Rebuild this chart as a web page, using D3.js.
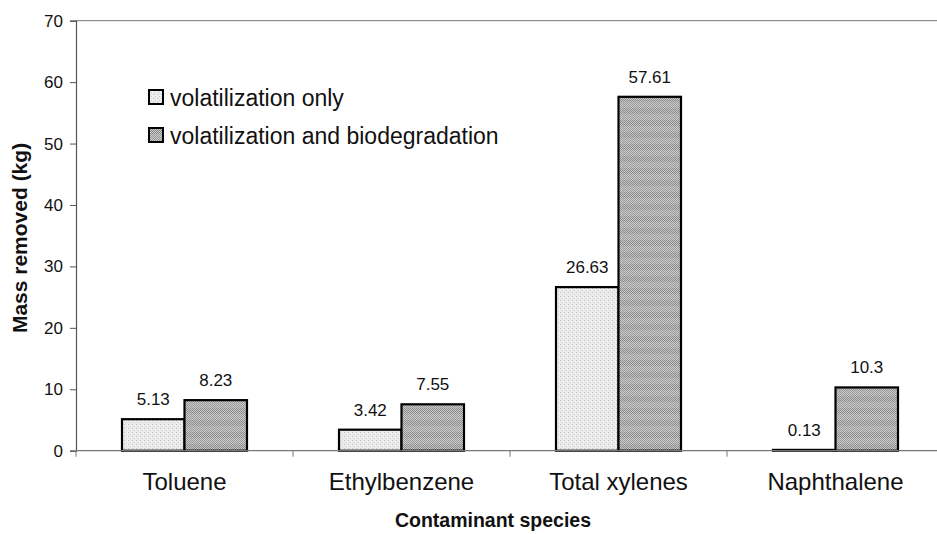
<!DOCTYPE html>
<html>
<head>
<meta charset="utf-8">
<script src="https://cdn.jsdelivr.net/npm/d3@7"></script>
<style>
  body { margin: 0; background: #fff; }
  svg { display: block; font-family: "Liberation Sans", Arial, sans-serif; }
</style>
</head>
<body>
<svg width="937" height="534"></svg>
<script>
// mass removed per contaminant, two model runs
var categories = ["Toluene", "Ethylbenzene", "Total xylenes", "Naphthalene"];
var seriesNames = ["volatilization only", "volatilization and biodegradation"];
var volOnly = [5.13, 3.42, 26.63, 0.13];
var volBio = [8.23, 7.55, 57.61, 10.3];
var valueLabels = [["5.13", "3.42", "26.63", "0.13"], ["8.23", "7.55", "57.61", "10.3"]];
var yTicks = [0, 10, 20, 30, 40, 50, 60, 70];

// plot box (right edge runs past the window, as in the original)
var plotLeft = 76, plotRight = 944, plotTop = 20.7, plotBottom = 450.7;

var svg = d3.select("svg");

// dithered fills, like the scanned print
var defs = svg.append("defs");
var light = defs.append("pattern").attr("id", "light")
  .attr("width", 4).attr("height", 4).attr("patternUnits", "userSpaceOnUse");
light.append("rect").attr("width", 4).attr("height", 4).attr("fill", "#ebebeb");
light.append("rect").attr("x", 0).attr("y", 0).attr("width", 1).attr("height", 1).attr("fill", "#c4c4c4");
light.append("rect").attr("x", 2).attr("y", 2).attr("width", 1).attr("height", 1).attr("fill", "#d0d0d0");
light.append("rect").attr("x", 3).attr("y", 1).attr("width", 1).attr("height", 1).attr("fill", "#fafafa");

var dark = defs.append("pattern").attr("id", "dark")
  .attr("width", 12).attr("height", 12).attr("patternUnits", "userSpaceOnUse");
dark.append("rect").attr("width", 12).attr("height", 12).attr("fill", "#c8c8c8");
for (var i = 0; i < 12; i++) {
  for (var j = 0; j < 12; j++) {
    if ((i + j) % 2 == 0) {
      dark.append("rect").attr("x", i).attr("y", j).attr("width", 1).attr("height", 1)
        .attr("fill", j < 6 ? "#8a8a8a" : "#9c9c9c");
    }
  }
}
var fills = ["url(#light)", "url(#dark)"];

var x0 = d3.scaleBand().domain(categories).range([plotLeft, plotRight]).padding(0);
var x1 = d3.scaleBand().domain([0, 1]).range([0, x0.bandwidth()]).paddingInner(0).paddingOuter(0.736);
var y = d3.scaleLinear().domain([0, 70]).range([plotBottom, plotTop]);

// plot frame top line
svg.append("line").attr("x1", plotLeft).attr("x2", plotRight).attr("y1", y(70)).attr("y2", y(70))
  .attr("stroke", "#777").attr("stroke-width", 1);

// y axis
var yAxis = svg.append("g").attr("transform", "translate(" + plotLeft + ",0)")
  .call(d3.axisLeft(y).tickValues(yTicks).tickSize(6).tickPadding(7));
yAxis.select(".domain").attr("stroke", "#555").attr("stroke-width", 1.2);
yAxis.selectAll(".tick line").attr("stroke", "#555");
yAxis.selectAll("text").attr("font-size", 17).attr("fill", "#111")
  .attr("font-family", "Liberation Sans, Arial, sans-serif");

// bars
var data = [volOnly, volBio];
data.forEach(function(vals, s) {
  svg.append("g").selectAll("rect").data(vals).enter().append("rect")
    .attr("x", function(d, k) { return x0(categories[k]) + x1(s); })
    .attr("y", function(d) { return y(d); })
    .attr("width", x1.bandwidth())
    .attr("height", function(d) { return y(0) - y(d); })
    .attr("fill", fills[s])
    .attr("stroke", "#000").attr("stroke-width", 2.2);
  svg.append("g").selectAll("text").data(vals).enter().append("text")
    .attr("x", function(d, k) { return x0(categories[k]) + x1(s) + x1.bandwidth() / 2; })
    .attr("y", function(d) { return y(d) - 14; })
    .attr("text-anchor", "middle").attr("font-size", 17).attr("fill", "#111")
    .text(function(d, k) { return valueLabels[s][k]; });
});

// x axis with ticks on the category boundaries
var xAxis = svg.append("g").attr("transform", "translate(0," + plotBottom + ")");
xAxis.append("line").attr("x1", plotLeft).attr("x2", plotRight).attr("stroke", "#777").attr("stroke-width", 1.2);
xAxis.selectAll("line.tk").data(categories.concat([null])).enter().append("line").attr("class", "tk")
  .attr("x1", function(d, k) { return plotLeft + k * x0.step(); })
  .attr("x2", function(d, k) { return plotLeft + k * x0.step(); })
  .attr("y1", 0).attr("y2", 6).attr("stroke", "#777");
xAxis.selectAll("text").data(categories).enter().append("text")
  .attr("x", function(d) { return x0(d) + x0.bandwidth() / 2; })
  .attr("y", 39.5).attr("text-anchor", "middle").attr("font-size", 24).attr("fill", "#111")
  .text(function(d) { return d; });

// axis titles
svg.append("text").attr("transform", "translate(27,238) rotate(-90)")
  .attr("text-anchor", "middle").attr("font-size", 21).attr("font-weight", "bold").attr("fill", "#111")
  .text("Mass removed (kg)");
svg.append("text").attr("x", 493).attr("y", 527)
  .attr("text-anchor", "middle").attr("font-size", 19.5).attr("font-weight", "bold").attr("fill", "#111")
  .text("Contaminant species");

// legend
var legend = svg.append("g").selectAll("g").data(seriesNames).enter().append("g")
  .attr("transform", function(d, k) { return "translate(149," + (90 + k * 38) + ")"; });
legend.append("rect").attr("width", 14).attr("height", 14)
  .attr("fill", function(d, k) { return fills[k]; })
  .attr("stroke", "#000").attr("stroke-width", 2);
legend.append("text").attr("x", 21).attr("y", 15.5).attr("font-size", 23).attr("fill", "#111")
  .text(function(d) { return d; });
</script>
</body>
</html>
